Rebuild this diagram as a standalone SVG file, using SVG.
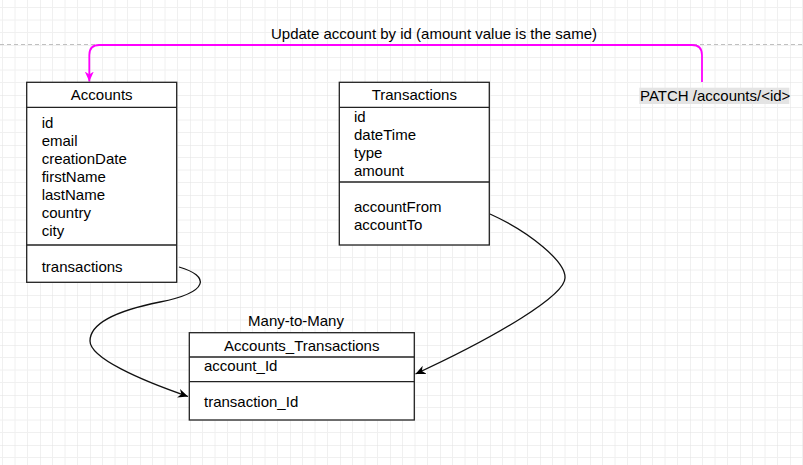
<svg xmlns="http://www.w3.org/2000/svg" width="803" height="465" viewBox="0 0 803 465">
<defs>
<pattern id="grid" patternUnits="userSpaceOnUse" x="40" y="45" width="50" height="50">
<path d="M12.5 0V50M25 0V50M37.5 0V50M0 12.5H50M0 25H50M0 37.5H50" stroke="#f0f0f0" stroke-width="1" fill="none"/>
<path d="M0 0V50M0 0H50" stroke="#e2e2e2" stroke-width="1" fill="none"/>
</pattern>
<marker id="arrBlack" markerUnits="userSpaceOnUse" markerWidth="12" markerHeight="10" refX="10" refY="4.5" orient="auto" viewBox="0 0 12 10">
<path d="M0 0L10 4.5L0 9L3 4.5Z" fill="#000"/>
</marker>
<marker id="arrPink" markerUnits="userSpaceOnUse" markerWidth="12" markerHeight="10" refX="10" refY="4.5" orient="auto" viewBox="0 0 12 10">
<path d="M0 0L10 4.5L0 9L3 4.5Z" fill="#ff00ff"/>
</marker>
</defs>
<style>
text{font-family:"Liberation Sans",Arial,sans-serif;font-size:15px;fill:#000}
.box{fill:#fff;stroke:#222;stroke-width:1.3}
.sep{stroke:#222;stroke-width:1.3}
.mid{text-anchor:middle}
.edge{fill:none;stroke:#111;stroke-width:1.3}
</style>
<rect width="803" height="465" fill="#fff"/>
<rect width="803" height="465" fill="url(#grid)"/>
<line x1="0" y1="44.5" x2="803" y2="44.5" stroke="#c0c0c0" stroke-width="1" stroke-dasharray="4 3"/>

<g id="connectors">
<path class="edge" d="M179 267C210 276 210 292 160 302C110 312 90 325 90 341C90 358 140 380 188 396.5" marker-end="url(#arrBlack)"/>
<path class="edge" d="M490 214C530 232 566 262 565 278C565 295 500 335 415.5 374" marker-end="url(#arrBlack)"/>
<path d="M702 82V55Q702 45 692 45H99.3Q89.3 45 89.3 55V81.5" fill="none" stroke="#ff00ff" stroke-width="1.8" marker-end="url(#arrPink)"/>
<text class="mid" x="434" y="38.8">Update account by id (amount value is the same)</text>
</g>

<g id="accounts">
<rect class="box" x="26.7" y="82.3" width="150" height="200"/>
<line class="sep" x1="26.7" y1="107.3" x2="176.7" y2="107.3"/>
<line class="sep" x1="26.7" y1="245" x2="176.7" y2="245"/>
<text class="mid" x="101.7" y="100.3">Accounts</text>
<text x="41.7" y="128">id</text>
<text x="41.7" y="146">email</text>
<text x="41.7" y="164">creationDate</text>
<text x="41.7" y="182">firstName</text>
<text x="41.7" y="200">lastName</text>
<text x="41.7" y="218">country</text>
<text x="41.7" y="236">city</text>
<text x="41.7" y="271.7">transactions</text>
</g>

<g id="transactions">
<rect class="box" x="339.3" y="82.3" width="150" height="162.7"/>
<line class="sep" x1="339.3" y1="107.3" x2="489.3" y2="107.3"/>
<line class="sep" x1="339.3" y1="182" x2="489.3" y2="182"/>
<text class="mid" x="414.3" y="100.3">Transactions</text>
<text x="354" y="122">id</text>
<text x="354" y="140">dateTime</text>
<text x="354" y="158">type</text>
<text x="354" y="176">amount</text>
<text x="354" y="212">accountFrom</text>
<text x="354" y="230">accountTo</text>
</g>

<g id="accounts_transactions">
<text class="mid" x="296" y="325.5">Many-to-Many</text>
<rect class="box" x="189.3" y="332.7" width="225" height="87.3"/>
<line class="sep" x1="189.3" y1="357" x2="414.3" y2="357"/>
<line class="sep" x1="189.3" y1="381.7" x2="414.3" y2="381.7"/>
<text class="mid" x="301.8" y="350.5">Accounts_Transactions</text>
<text x="204" y="370.8">account_Id</text>
<text x="204" y="406.8">transaction_Id</text>
</g>

<g id="patch">
<rect x="639.3" y="87.7" width="150" height="16.3" fill="#e4e4e4"/>
<text x="640" y="100.8">PATCH /accounts/&lt;id&gt;</text>
</g>
</svg>
